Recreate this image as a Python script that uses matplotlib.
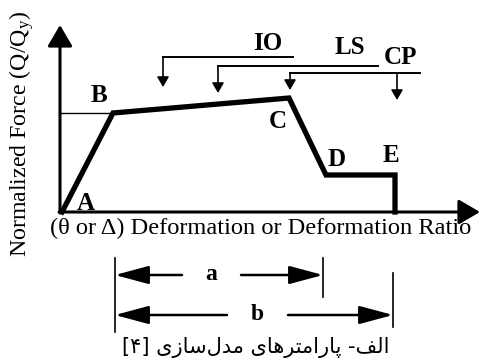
import matplotlib
matplotlib.use("Agg")
import matplotlib.pyplot as plt

plt.rcParams['font.family'] = ['Liberation Serif', 'DejaVu Serif']
plt.rcParams['mathtext.fontset'] = 'custom'
plt.rcParams['mathtext.rm'] = 'Liberation Serif'
plt.rcParams['mathtext.it'] = 'Liberation Serif:italic'

# backbone curve (deformation, force), origin at the axes crossing
deformation = [2, 53, 229, 266, 335, 335]
force = [0, 99, 114, 37, 37, 0]
point_names = ['A', 'B', 'C', 'D', 'E']
name_pos = [(26, 9), (39, 116), (218, 91), (277, 52), (331, 57)]

# performance levels: name, bracket height, bracket span, arrow x's, arrow ends, label pos
levels = ['IO', 'LS', 'CP']
level_y = [155, 146, 139]
level_span = [(103, 233), (158, 318), (230, 360)]
level_arrows = [[103], [158], [230, 337]]
level_ends = [[125], [119], [122, 112]]
level_text = [(208, 168), (290, 165), (341, 155)]

# dimension lines a and b
dims = ['a', 'b']
dim_span = [(55, 263), (55, 333)]
dim_y = [-63, -103]
dim_gap = [(122, 181), (167, 228)]
dim_tick = [(-46, -85), (-61, -115)]
left_tick = (-46, -120)

fig = plt.figure(figsize=(4.81, 3.64), dpi=100)
ax = fig.add_axes([0, 0, 1, 1])
ax.set_xlim(-60, 421)
ax.set_ylim(-152, 212)
ax.axis('off')

def arrow(x0, y0, x1, y1, lw, hl, hw, ms):
    ax.annotate('', xy=(x1, y1), xytext=(x0, y0),
                arrowprops=dict(arrowstyle='-|>,head_length=%g,head_width=%g' % (hl, hw),
                                mutation_scale=ms, lw=lw, color='black',
                                shrinkA=0, shrinkB=0))

# axes with big arrow heads
arrow(0, -1, 0, 187, 2.2, 0.65, 0.38, 20)
arrow(-1, 0, 420, 0, 2.2, 0.65, 0.38, 20)

# yield force reference line
ax.plot([0, deformation[1]], [force[1], force[1]], color='black', lw=1.0)

# backbone curve
ax.plot(deformation, force, color='black', lw=3.8, solid_joinstyle='miter')

for n, (x, y) in zip(point_names, name_pos):
    ax.text(x, y, n, fontsize=18, fontweight='bold', ha='center', va='center')

for lv, y, (x0, x1), xs, ends, (tx, ty) in zip(levels, level_y, level_span,
                                               level_arrows, level_ends, level_text):
    ax.plot([x0, x1], [y, y], color='black', lw=1.4)
    for xa, ye in zip(xs, ends):
        arrow(xa, y, xa, ye, 1.2, 0.6, 0.35, 10)
    ax.text(tx, ty, lv, fontsize=18, fontweight='bold', ha='center', va='center')

ax.plot([dim_span[0][0]] * 2, left_tick, color='black', lw=1.2)
for d, (x0, x1), y, (g0, g1), tick in zip(dims, dim_span, dim_y, dim_gap, dim_tick):
    ax.plot([x1, x1], tick, color='black', lw=1.2)
    arrow(g0, y, x0, y, 1.8, 1.3, 0.35, 16)
    arrow(g1, y, x1, y, 1.8, 1.3, 0.35, 16)
    ax.text((g0 + g1) / 2, y + 1, d, fontsize=17,
            fontweight='bold', ha='center', va='center')

ax.text(201, -16, '(\u03b8 or \u0394) Deformation or Deformation Ratio',
        fontsize=17.6, ha='center', va='center')
ax.text(-38, 78, r'Normalized Force (Q/Q$_\mathrm{y}$)', fontsize=17.2,
        rotation=90, ha='center', va='center')

# caption, Persian, shaped glyphs in visual order
caption = ('[\u06f4] '
           '\ufbfc\ufeaf\ufe8e\ufeb3\ufedd\ufeaa\ufee3 '
           '\ufbfc\ufe8e\ufeeb\ufeae\ufe98\ufee3\ufe8d\ufead\ufe8e\ufb58 '
           '-\ufed2\ufedf\ufe8d')
ax.text(196, -136, caption, fontsize=15, family='DejaVu Sans',
        ha='center', va='center')

fig.savefig('out.png', dpi=100)
